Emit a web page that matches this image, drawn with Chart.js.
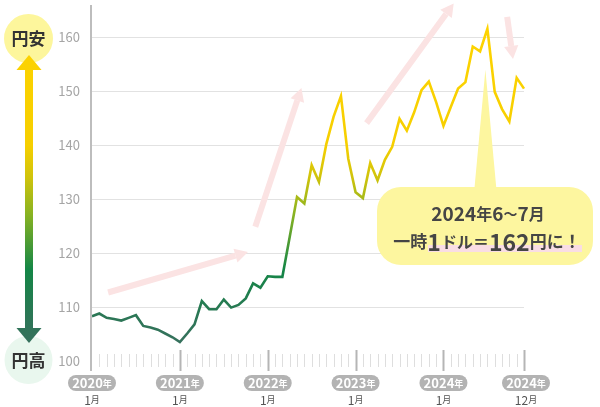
<!DOCTYPE html>
<html>
<head>
<meta charset="utf-8">
<script src="https://cdn.jsdelivr.net/npm/chart.js@4"></script>
<style>
  html, body { margin: 0; padding: 0; background: #fff; }
  #wrap { width: 600px; height: 407px; position: relative; }
</style>
</head>
<body>
<div id="wrap"><canvas id="c" width="600" height="407"></canvas></div>
<script>
// monthly USD/JPY, Jan 2020 - Dec 2024
var MONTHS = [];
for (var y = 2020; y <= 2024; y++) for (var m = 1; m <= 12; m++) MONTHS.push(y + '-' + m);

var RATE = [
  108.3, 108.8, 108.0, 107.8, 107.5, 108.0, 108.5, 106.5, 106.2, 105.8, 105.1, 104.4,
  103.5, 105.1, 106.8, 111.1, 109.6, 109.6, 111.4, 109.9, 110.4, 111.6, 114.4, 113.6,
  115.7, 115.6, 115.6, 123.0, 130.4, 129.2, 136.3, 133.2, 140.2, 145.3, 149.1, 137.5,
  131.3, 130.2, 136.7, 133.5, 137.3, 139.7, 144.9, 142.7, 146.1, 150.2, 151.8, 148.0,
  143.6, 147.1, 150.5, 151.7, 158.3, 157.4, 161.6, 149.9, 146.7, 144.4, 152.5, 150.5
];

var MAJOR_IDX = [0, 12, 24, 36, 48, 59];
var MAJOR_YEAR = ['2020', '2021', '2022', '2023', '2024', '2024'];
var MAJOR_MONTH = ['1', '1', '1', '1', '1', '12'];

var Y_TICKS = [100, 110, 120, 130, 140, 150, 160];

// decorative trend arrows [fromIdx, fromVal, toIdx, toVal]
var TREND = [
  [2.2, 112.7, 21.3, 120.2],
  [22.3, 124.9, 28.6, 150.6],
  [37.5, 144.1, 49.4, 166.3],
  [56.7, 163.8, 57.5, 156.0]
];
var PEAK_IDX = 54;

var FONT = "'Noto Sans CJK JP', 'Noto Sans', sans-serif";

// value -> colour, used by line and left arrow
var STOPS = [
  [100, '#3e6d62'], [108, '#2c7656'], [117, '#148646'],
  [127, '#86b222'], [134, '#cfc30c'], [140, '#f6cf00'], [166, '#ffd400']
];

function gradFor(ctx, scale) {
  var yTop = scale.getPixelForValue(166), yBot = scale.getPixelForValue(100);
  var g = ctx.createLinearGradient(0, yBot, 0, yTop);
  STOPS.forEach(function (s) {
    g.addColorStop((s[0] - 100) / 66, s[1]);
  });
  return g;
}

function mixed(ctx, x, yMid, parts) {
  // parts: [text, size, weight]
  var w = 0;
  parts.forEach(function (p) { ctx.font = p[2] + ' ' + p[1] + 'px ' + FONT; w += ctx.measureText(p[0]).width; });
  var cx = x - w / 2;
  parts.forEach(function (p) {
    ctx.font = p[2] + ' ' + p[1] + 'px ' + FONT;
    ctx.fillText(p[0], cx, yMid);
    cx += ctx.measureText(p[0]).width;
  });
  return w;
}

function arrowLine(ctx, x0, y0, x1, y1, color, lw, head) {
  var a = Math.atan2(y1 - y0, x1 - x0);
  var bx = x1 - Math.cos(a) * head, by = y1 - Math.sin(a) * head;
  ctx.strokeStyle = color;
  ctx.lineWidth = lw;
  ctx.lineCap = 'butt';
  ctx.beginPath(); ctx.moveTo(x0, y0); ctx.lineTo(bx, by); ctx.stroke();
  ctx.fillStyle = color;
  ctx.beginPath();
  ctx.moveTo(x1, y1);
  ctx.lineTo(bx + Math.cos(a + Math.PI / 2) * head * 0.55, by + Math.sin(a + Math.PI / 2) * head * 0.55);
  ctx.lineTo(bx + Math.cos(a - Math.PI / 2) * head * 0.55, by + Math.sin(a - Math.PI / 2) * head * 0.55);
  ctx.closePath(); ctx.fill();
}

var decor = {
  id: 'decor',
  beforeDatasetsDraw: function (chart) {
    var ctx = chart.ctx, xs = chart.scales.x, ys = chart.scales.y;
    ctx.save();

    // trend arrows
    TREND.forEach(function (t) {
      arrowLine(ctx, xs.getPixelForValue(t[0]), ys.getPixelForValue(t[1]),
        xs.getPixelForValue(t[2]), ys.getPixelForValue(t[3]), '#fbe3e3', 6, 13);
    });

    // callout
    var px = xs.getPixelForValue(PEAK_IDX) - 2;
    var bx = 377, by = 187, bw = 216, bh = 78;
    ctx.fillStyle = '#fdf69f';
    ctx.beginPath();
    ctx.moveTo(px - 11, by + 2);
    ctx.lineTo(px, ys.getPixelForValue(RATE[PEAK_IDX]) + 41);
    ctx.lineTo(px + 11, by + 2);
    ctx.closePath(); ctx.fill();
    ctx.beginPath();
    ctx.roundRect(bx, by, bw, bh, 24);
    ctx.fill();

    ctx.fillStyle = '#f9dde4';
    ctx.fillRect(428, 245, 154, 7);

    ctx.fillStyle = '#454545';
    ctx.textBaseline = 'middle';
    ctx.textAlign = 'left';
    mixed(ctx, 488, 214, [['2024', 19, 'bold'], ['年', 16, 'bold'], ['6', 19, 'bold'], ['～', 14, 'bold'], ['7', 19, 'bold'], ['月', 16, 'bold']]);
    mixed(ctx, 487, 242, [['一時', 17, 'bold'], ['1', 23, 'bold'], ['ドル＝', 16, 'bold'], ['162', 23, 'bold'], ['円に！', 17, 'bold']]);
    ctx.restore();
  },
  afterDraw: function (chart) {
    var ctx = chart.ctx, xs = chart.scales.x, ys = chart.scales.y;
    var area = chart.chartArea;
    var y0 = ys.getPixelForValue(100);
    ctx.save();

    // vertical axis line
    ctx.strokeStyle = '#bdbdbd';
    ctx.lineWidth = 2;
    ctx.beginPath(); ctx.moveTo(area.left - 1, 5); ctx.lineTo(area.left - 1, y0 + 10); ctx.stroke();

    // month ticks
    for (var i = 1; i < MONTHS.length; i++) {
      var x = Math.round(xs.getPixelForValue(i)) + 0.5;
      var major = MAJOR_IDX.indexOf(i) >= 0;
      ctx.strokeStyle = major ? '#b5b5b5' : '#dedede';
      ctx.lineWidth = major ? 2 : 1;
      ctx.beginPath();
      if (major) { ctx.moveTo(x, y0 - 11); ctx.lineTo(x, y0 + 10); }
      else { ctx.moveTo(x, y0 - 7); ctx.lineTo(x, y0 + 6); }
      ctx.stroke();
    }

    // year pills and month labels
    ctx.textBaseline = 'middle';
    MAJOR_IDX.forEach(function (idx, k) {
      var cx = xs.getPixelForValue(idx);
      if (idx === 59) cx += 2;
      ctx.fillStyle = '#b3b3b3';
      ctx.beginPath(); ctx.roundRect(cx - 24, 375, 48, 16, 8); ctx.fill();
      ctx.fillStyle = '#fff';
      mixed(ctx, cx, 383.5, [[MAJOR_YEAR[k], 13, 'bold'], ['年', 9, 'bold']]);
      ctx.fillStyle = '#555';
      mixed(ctx, cx, 400, [[MAJOR_MONTH[k], 12, 'normal'], ['月', 9, 'normal']]);
    });

    // end circles
    ctx.fillStyle = '#fdf69c';
    ctx.beginPath(); ctx.arc(28.5, 38.5, 24.5, 0, Math.PI * 2); ctx.fill();
    ctx.fillStyle = '#e9f7ee';
    ctx.beginPath(); ctx.arc(28.5, 360, 24, 0, Math.PI * 2); ctx.fill();

    // left scale arrow
    var top = 55, bot = 343, cxA = 29;
    var g = gradFor(ctx, ys);
    ctx.fillStyle = g;
    ctx.fillRect(cxA - 4, top + 14, 8, bot - top - 28);
    ctx.beginPath(); ctx.moveTo(cxA, top); ctx.lineTo(cxA - 12.5, top + 15); ctx.lineTo(cxA + 12.5, top + 15); ctx.closePath(); ctx.fill();
    ctx.beginPath(); ctx.moveTo(cxA, bot); ctx.lineTo(cxA - 12.5, bot - 15); ctx.lineTo(cxA + 12.5, bot - 15); ctx.closePath(); ctx.fill();

    ctx.fillStyle = '#333';
    ctx.textAlign = 'center';
    ctx.font = 'bold 17px ' + FONT;
    ctx.fillText('円安', 28.5, 39);
    ctx.fillText('円高', 28.5, 361);
    ctx.restore();
  }
};

new Chart(document.getElementById('c'), {
  type: 'line',
  data: {
    labels: MONTHS,
    datasets: [{
      data: RATE,
      borderWidth: 2.6,
      pointRadius: 0,
      tension: 0,
      borderJoinStyle: 'miter',
      borderColor: function (c) {
        var ch = c.chart;
        if (!ch.chartArea) return '#2c7656';
        return gradFor(ch.ctx, ch.scales.y);
      }
    }]
  },
  options: {
    responsive: false,
    animation: false,
    devicePixelRatio: 1,
    layout: { padding: { left: 0, top: 5, right: 76, bottom: 46 } },
    plugins: { legend: { display: false }, tooltip: { enabled: false } },
    scales: {
      x: { type: 'category', offset: false, display: false },
      y: {
        min: 100, max: 166,
        afterFit: function (s) { s.width = 92; s.paddingTop = 0; s.paddingBottom = 0; },
        afterBuildTicks: function (s) {
          s.ticks = Y_TICKS.map(function (v) { return { value: v }; });
        },
        border: { display: false },
        grid: {
          drawTicks: false,
          color: function (c) { return c.tick && c.tick.value === 100 ? 'rgba(0,0,0,0)' : '#e2e2e2'; },
          lineWidth: 1
        },
        ticks: { padding: 12, color: '#a5a5a5', font: { size: 13, family: FONT } }
      }
    }
  },
  plugins: [decor]
});
</script>
</body>
</html>
